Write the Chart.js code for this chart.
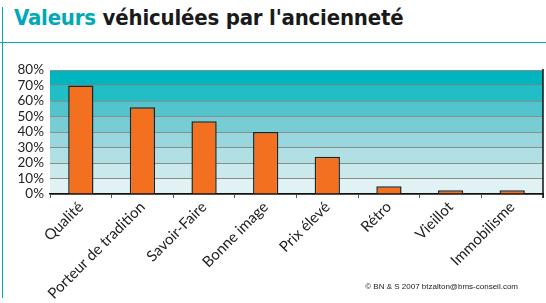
<!DOCTYPE html>
<html>
<head>
<meta charset="utf-8">
<script src="https://cdn.jsdelivr.net/npm/chart.js@4"></script>
<style>
  body { margin: 0; background: #fff; }
  #cadre { position: relative; width: 546px; height: 303px; overflow: hidden; }
  #titre { position: absolute; left: 14px; top: 5px; font-family: "DejaVu Sans Condensed", "DejaVu Sans"; font-size: 22px; font-weight: bold; color: #1a1a1a; white-space: nowrap; letter-spacing: -0.2px; }
  #titre span { color: #00a9b5; }
  #ligneH { position: absolute; left: 0; top: 42px; width: 546px; height: 1px; background: #00a9b5; }
  #ligneV { position: absolute; left: 2px; top: 7px; width: 1px; height: 291px; background: #00a9b5; }
  #copy { position: absolute; right: 28px; top: 282px; font-family: "Liberation Sans"; font-size: 8px; color: #222; }
  canvas { position: absolute; left: 0; top: 0; }
</style>
</head>
<body>
<div id="cadre">
  <div id="titre"><span>Valeurs</span> véhiculées par l'ancienneté</div>
  <div id="ligneH"></div>
  <div id="ligneV"></div>
  <canvas id="graphique" width="546" height="303"></canvas>
  <div id="copy">© BN &amp; S 2007 btzalton@bms-conseil.com</div>
</div>
<script>
// DONNEES
const categories = ['Qualité', 'Porteur de tradition', 'Savoir-Faire', 'Bonne image', 'Prix élevé', 'Rétro', 'Vieillot', 'Immobilisme'];
const valeurs = [70, 56, 47, 40, 24, 5, 2.4, 2.4];
const ticksY = [0, 10, 20, 30, 40, 50, 60, 70, 80];
const couleursBandes = ['#e1f2f4', '#cae9eb', '#b0e0e3', '#97d7dd', '#77cdd3', '#53c3cc', '#22bec6', '#00b5bd'];

// fond en bandes + bordure droite
const bandes = {
  id: 'bandes',
  beforeDraw(chart) {
    const { ctx, chartArea, scales } = chart;
    ctx.save();
    for (let i = 0; i < couleursBandes.length; i++) {
      const y1 = scales.y.getPixelForValue(ticksY[i]);
      const y2 = scales.y.getPixelForValue(ticksY[i + 1]);
      ctx.fillStyle = couleursBandes[i];
      ctx.fillRect(chartArea.left, y2, chartArea.right - chartArea.left, y1 - y2);
    }
    ctx.restore();
  },
  afterDraw(chart) {
    const { ctx, chartArea } = chart;
    ctx.save();
    ctx.strokeStyle = '#111';
    ctx.lineWidth = 1.5;
    ctx.beginPath();
    ctx.moveTo(chartArea.right, chartArea.top - 1);
    ctx.lineTo(chartArea.right, chartArea.bottom + 4);
    ctx.stroke();
    ctx.restore();
  }
};

const ctx = document.getElementById('graphique').getContext('2d');
const graphique = new Chart(ctx, {
  type: 'bar',
  data: {
    labels: categories,
    datasets: [{
      data: valeurs,
      backgroundColor: '#f37021',
      borderColor: '#222',
      borderWidth: 1.5,
      barPercentage: 0.41,
      categoryPercentage: 1
    }]
  },
  options: {
    responsive: false,
    animation: false,
    layout: { padding: { top: 70, right: 3, left: 0, bottom: 0 } },
    plugins: { legend: { display: false }, tooltip: { enabled: false } },
    scales: {
      y: {
        min: 0,
        max: 80,
        afterFit: (s) => { s.width = 50; },
        afterBuildTicks: (s) => { s.ticks = ticksY.map(v => ({ value: v })); },
        ticks: {
          autoSkip: false,
          callback: (v) => v + '%',
          color: '#222',
          font: { family: 'Lato', size: 13.5 },
          padding: 6
        },
        grid: { color: '#8c8c8c', lineWidth: 1, drawTicks: false },
        border: { display: false }
      },
      x: {
        afterFit: (s) => { s.height = 109; },
        ticks: {
          autoSkip: false,
          minRotation: 45,
          maxRotation: 45,
          color: '#222',
          font: { family: 'Lato', size: 15 },
          padding: 0
        },
        grid: { drawOnChartArea: false, color: '#555', tickLength: 4, offset: true },
        border: { color: '#111', width: 1.5 }
      }
    }
  },
  plugins: [bandes]
});
</script>
</body>
</html>
